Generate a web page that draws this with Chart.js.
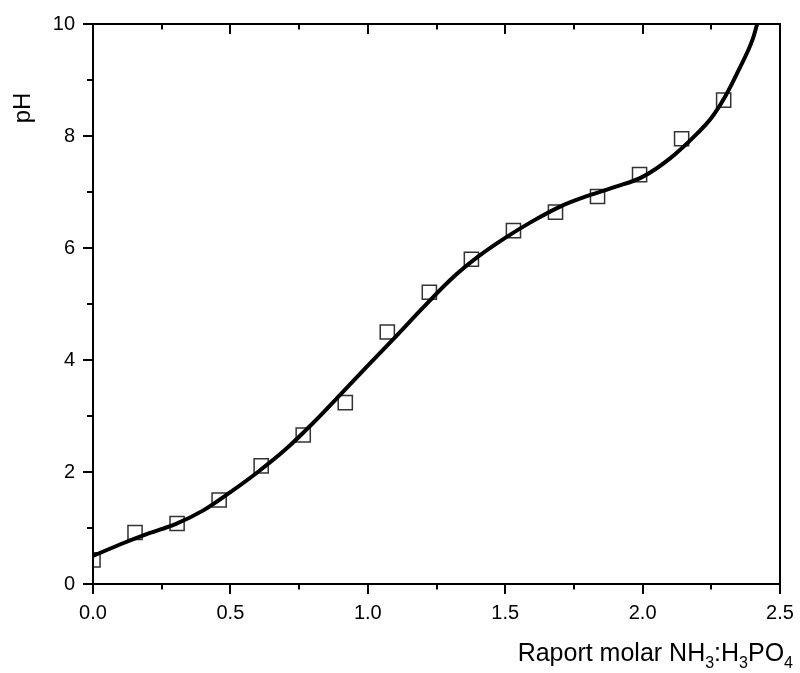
<!DOCTYPE html>
<html>
<head>
<meta charset="utf-8">
<script src="https://cdn.jsdelivr.net/npm/chart.js@4.4.1/dist/chart.umd.min.js"></script>
<style>
html,body{margin:0;padding:0;background:#fff;}
#wrap{width:800px;height:673px;position:relative;}
</style>
</head>
<body>
<div id="wrap"><canvas id="c" width="800" height="673"></canvas></div>
<script>
// Measured points (open squares)
const ratioX = [0, 0.153, 0.306, 0.459, 0.612, 0.765, 0.918, 1.071, 1.224, 1.377, 1.530, 1.683, 1.836, 1.989, 2.142, 2.295];
const pHMeasured = [0.43, 0.92, 1.08, 1.50, 2.11, 2.66, 3.24, 4.50, 5.21, 5.80, 6.31, 6.64, 6.92, 7.31, 7.95, 8.64];

// Fitted curve
const curveX = [0, 0.1, 0.2, 0.3, 0.4, 0.5, 0.6, 0.7, 0.8, 0.9, 1.0, 1.1, 1.2, 1.3, 1.4, 1.5, 1.6, 1.7, 1.8, 1.9, 2.0, 2.1, 2.2, 2.25, 2.3, 2.35, 2.4, 2.417];
const curvePH = [0.50, 0.71, 0.90, 1.07, 1.31, 1.64, 2.00, 2.40, 2.87, 3.38, 3.90, 4.41, 4.93, 5.43, 5.84, 6.18, 6.48, 6.74, 6.93, 7.09, 7.27, 7.60, 8.05, 8.32, 8.70, 9.18, 9.72, 10.0];

// Axis ticks
const xTicks = [0, 0.5, 1.0, 1.5, 2.0, 2.5];
const yTicks = [0, 2, 4, 6, 8, 10];

// Axis titles
const xTitleParts = [["Raport molar NH", false], ["3", true], [":H", false], ["3", true], ["PO", false], ["4", true]];
const yTitle = "pH";

const FONT = "'Liberation Sans', Arial, sans-serif";

const framePlugin = {
  id: 'frame',
  afterDraw(chart) {
    const ctx = chart.ctx;
    const a = chart.chartArea;
    const xs = chart.scales.x, ys = chart.scales.y;
    ctx.save();
    ctx.strokeStyle = '#000';
    ctx.lineWidth = 2;
    ctx.lineCap = 'butt';
    ctx.strokeRect(a.left, a.top, a.right - a.left, a.bottom - a.top);
    // x ticks: bottom outward, top inward
    for (let i = 0; i < xTicks.length; i++) {
      const vals = [[xTicks[i], 10]];
      if (i < xTicks.length - 1) vals.push([(xTicks[i] + xTicks[i + 1]) / 2, 5.5]);
      for (const [v, len] of vals) {
        const px = Math.round(xs.getPixelForValue(v));
        ctx.beginPath();
        ctx.moveTo(px, a.bottom); ctx.lineTo(px, a.bottom + len);
        ctx.moveTo(px, a.top); ctx.lineTo(px, a.top + len);
        ctx.stroke();
      }
    }
    // y ticks: left outward
    for (let i = 0; i < yTicks.length; i++) {
      const vals = [[yTicks[i], 10]];
      if (i < yTicks.length - 1) vals.push([(yTicks[i] + yTicks[i + 1]) / 2, 6]);
      for (const [v, len] of vals) {
        const py = Math.round(ys.getPixelForValue(v));
        ctx.beginPath();
        ctx.moveTo(a.left, py); ctx.lineTo(a.left - len, py);
        ctx.stroke();
      }
    }
    // x title with subscripts, right aligned
    ctx.fillStyle = '#000';
    ctx.textBaseline = 'alphabetic';
    ctx.textAlign = 'left';
    const mainF = '25px ' + FONT, subF = '16px ' + FONT;
    let total = 0;
    for (const [t, sub] of xTitleParts) { ctx.font = sub ? subF : mainF; total += ctx.measureText(t).width; }
    let x = 793 - total;
    const base = 661;
    for (const [t, sub] of xTitleParts) {
      ctx.font = sub ? subF : mainF;
      ctx.fillText(t, x, sub ? base + 7 : base);
      x += ctx.measureText(t).width;
    }
    // y title rotated
    ctx.translate(23, 108);
    ctx.rotate(-Math.PI / 2);
    ctx.font = '24px ' + FONT;
    ctx.textAlign = 'center';
    ctx.textBaseline = 'middle';
    ctx.fillText(yTitle, 0, 0);
    ctx.restore();
  }
};

new Chart(document.getElementById('c'), {
  type: 'scatter',
  data: {
    datasets: [
      {
        label: 'fit',
        data: curveX.map((x, i) => ({x: x, y: curvePH[i]})),
        showLine: true,
        borderColor: '#000',
        borderWidth: 4,
        pointRadius: 0,
        cubicInterpolationMode: 'monotone',
        fill: false,
        clip: 0
      },
      {
        label: 'pH',
        data: ratioX.map((x, i) => ({x: x, y: pHMeasured[i]})),
        showLine: false,
        pointStyle: 'rect',
        pointRadius: 10,
        pointBorderWidth: 1.5,
        pointBorderColor: '#333',
        pointBackgroundColor: 'rgba(255,255,255,0)',
        clip: 0
      }
    ]
  },
  options: {
    responsive: false,
    animation: false,
    devicePixelRatio: 1,
    layout: { padding: { top: 24, right: 20, left: 0, bottom: 0 } },
    plugins: { legend: { display: false }, tooltip: { enabled: false } },
    scales: {
      x: {
        type: 'linear', min: 0, max: 2.5,
        afterBuildTicks: s => { s.ticks = xTicks.map(v => ({value: v})); },
        ticks: { callback: v => Number(v).toFixed(1), font: { family: FONT, size: 20 }, color: '#000', padding: 17, maxRotation: 0, autoSkip: false },
        grid: { display: false, drawTicks: false },
        border: { display: false },
        afterFit: s => { s.height = 89; s.paddingLeft = 0; s.paddingRight = 0; }
      },
      y: {
        type: 'linear', min: 0, max: 10,
        afterBuildTicks: s => { s.ticks = yTicks.map(v => ({value: v})); },
        ticks: { callback: v => String(v), font: { family: FONT, size: 20 }, color: '#000', padding: 18, autoSkip: false },
        grid: { display: false, drawTicks: false },
        border: { display: false },
        afterFit: s => { s.width = 93; s.paddingTop = 0; s.paddingBottom = 0; }
      }
    }
  },
  plugins: [framePlugin]
});
</script>
</body>
</html>
